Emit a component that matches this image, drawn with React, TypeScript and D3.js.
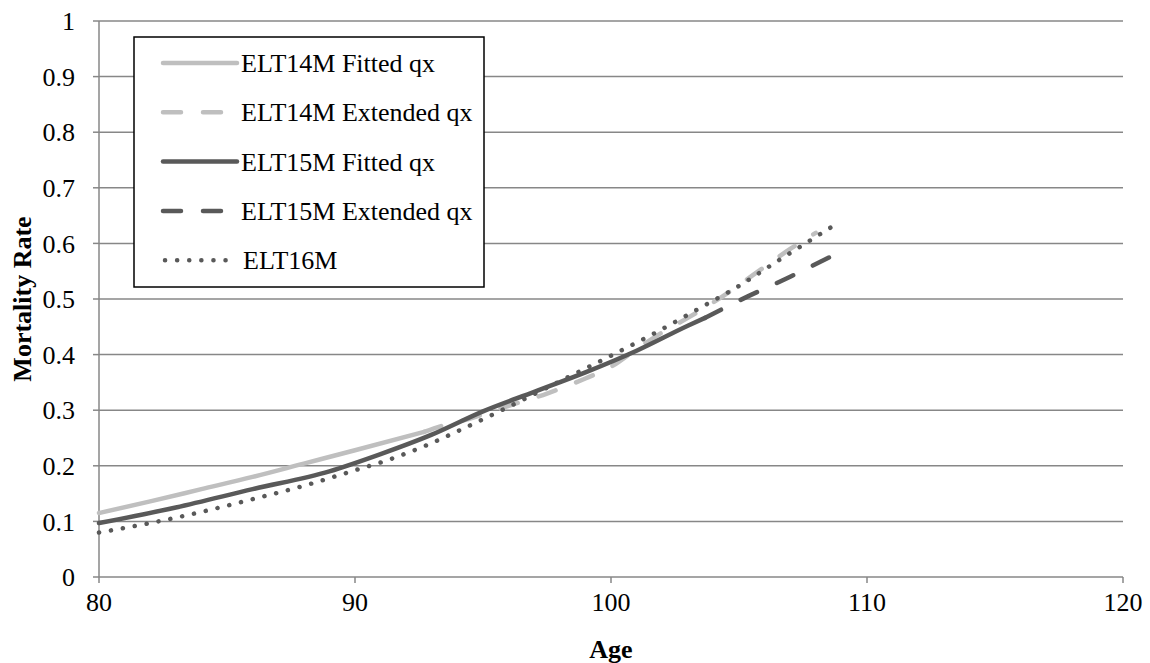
import React from "react";
import * as d3 from "d3";

// Mortality rates (qx) by age for the English Life Tables
const elt14FittedAge = [80, 82, 84, 86, 88, 90, 92.7];
const elt14FittedQx = [0.115, 0.136, 0.158, 0.18, 0.204, 0.228, 0.261];

const elt14ExtendedAge = [92.7, 93.4, 94.5, 96, 97.5, 99, 100, 101, 102, 103, 104, 105, 106, 107, 108];
const elt14ExtendedQx = [0.261, 0.272, 0.285, 0.308, 0.33, 0.357, 0.378, 0.41, 0.44, 0.466, 0.494, 0.525, 0.558, 0.59, 0.619];

const elt15FittedAge = [80, 83, 86, 89, 91, 93, 95, 97, 99, 101, 103, 103.67];
const elt15FittedQx = [0.097, 0.125, 0.158, 0.19, 0.221, 0.256, 0.298, 0.333, 0.368, 0.407, 0.452, 0.466];

const elt15ExtendedAge = [103.67, 105, 107, 109];
const elt15ExtendedQx = [0.466, 0.497, 0.54, 0.586];

const elt16Age = [80, 82, 84, 86, 88, 90, 91.2, 92.9, 94, 96, 98, 100, 101.6, 103.6, 104.8, 106.7, 108.7];
const elt16Qx = [0.08, 0.097, 0.117, 0.14, 0.164, 0.192, 0.209, 0.239, 0.262, 0.306, 0.352, 0.398, 0.436, 0.487, 0.518, 0.574, 0.632];

const xTicks = [80, 90, 100, 110, 120];
const yTicks = [0, 0.1, 0.2, 0.3, 0.4, 0.5, 0.6, 0.7, 0.8, 0.9, 1];

const seriesNames = [
  "ELT14M Fitted qx",
  "ELT14M Extended qx",
  "ELT15M Fitted qx",
  "ELT15M Extended qx",
  "ELT16M",
];

const LIGHT = "#bfbfbf";
const DARK = "#595959";
const GRID = "#878787";
const FONT = "'Liberation Serif', 'Times New Roman', serif";
const FS = 26;

type Style = { color: string; dash?: string };
const styles: Style[] = [
  { color: LIGHT },
  { color: LIGHT, dash: "18,22" },
  { color: DARK },
  { color: DARK, dash: "18,22" },
  { color: DARK, dash: "0.1,12" },
];

export default function App() {
  const W = 1150;
  const H = 663;
  const left = 99;
  const right = 1123;
  const top = 21;
  const bottom = 577;

  const x = d3.scaleLinear().domain([80, 120]).range([left, right]);
  const y = d3.scaleLinear().domain([0, 1]).range([bottom, top]);

  const line = d3
    .line<[number, number]>()
    .x((d) => x(d[0]))
    .y((d) => y(d[1]))
    .curve(d3.curveMonotoneX);

  const zip = (a: number[], b: number[]) => a.map((v, i) => [v, b[i]] as [number, number]);

  const series = [
    zip(elt14FittedAge, elt14FittedQx),
    zip(elt14ExtendedAge, elt14ExtendedQx),
    zip(elt15FittedAge, elt15FittedQx),
    zip(elt15ExtendedAge, elt15ExtendedQx),
    zip(elt16Age, elt16Qx),
  ];

  const lw = 4.5;

  // legend geometry
  const lgX = 134;
  const lgY = 37;
  const lgW = 350;
  const lgH = 250;
  const rowY = (i: number) => 63 + i * 49.3;

  return (
    <svg
      width={W}
      height={H}
      style={{ position: "absolute", left: 0, top: 0, background: "#fff", fontFamily: FONT }}
    >
      {/* horizontal gridlines */}
      {yTicks.map((t) => (
        <line key={"g" + t} x1={left} x2={right} y1={y(t)} y2={y(t)} stroke={GRID} strokeWidth={1.5} />
      ))}
      {/* y ticks and labels */}
      {yTicks.map((t) => (
        <g key={"yt" + t}>
          <line x1={left - 6} x2={left} y1={y(t)} y2={y(t)} stroke={GRID} strokeWidth={1.5} />
          <text x={75} y={y(t)} dy="0.35em" textAnchor="end" fontSize={FS} fill="#000">
            {d3.format("~g")(t)}
          </text>
        </g>
      ))}
      {/* y axis */}
      <line x1={left} x2={left} y1={top} y2={bottom} stroke={GRID} strokeWidth={1.5} />
      {/* x axis ticks and labels */}
      {xTicks.map((t) => (
        <g key={"xt" + t}>
          <line x1={x(t)} x2={x(t)} y1={bottom} y2={bottom + 6} stroke={GRID} strokeWidth={1.5} />
          <text x={x(t)} y={bottom + 25} dy="0.35em" textAnchor="middle" fontSize={FS} fill="#000">
            {t}
          </text>
        </g>
      ))}

      {/* axis titles */}
      <text x={x(100)} y={649} dy="0.35em" textAnchor="middle" fontSize={FS} fontWeight="bold">
        Age
      </text>
      <text
        transform={`translate(22, ${(top + bottom) / 2}) rotate(-90)`}
        dy="0.35em"
        textAnchor="middle"
        fontSize={FS}
        fontWeight="bold"
      >
        Mortality Rate
      </text>

      {/* series lines */}
      {series.map((pts, i) => (
        <path
          key={"s" + i}
          d={line(pts) || ""}
          fill="none"
          stroke={styles[i].color}
          strokeWidth={lw}
          strokeDasharray={styles[i].dash}
          strokeLinecap="round"
          strokeLinejoin="round"
        />
      ))}

      {/* legend */}
      <rect x={lgX} y={lgY} width={lgW} height={lgH} fill="#fff" stroke="#000" strokeWidth={1.5} />
      {seriesNames.map((name, i) => (
        <g key={"l" + i}>
          <line
            x1={i === 4 ? 165 : 163}
            x2={i === 4 ? 232 : 237}
            y1={rowY(i)}
            y2={rowY(i)}
            stroke={styles[i].color}
            strokeWidth={lw}
            strokeDasharray={styles[i].dash}
            strokeLinecap="round"
          />
          <text x={i === 4 ? 243 : 241} y={rowY(i)} dy="0.35em" fontSize={FS} fill="#000">
            {name}
          </text>
        </g>
      ))}
    </svg>
  );
}
